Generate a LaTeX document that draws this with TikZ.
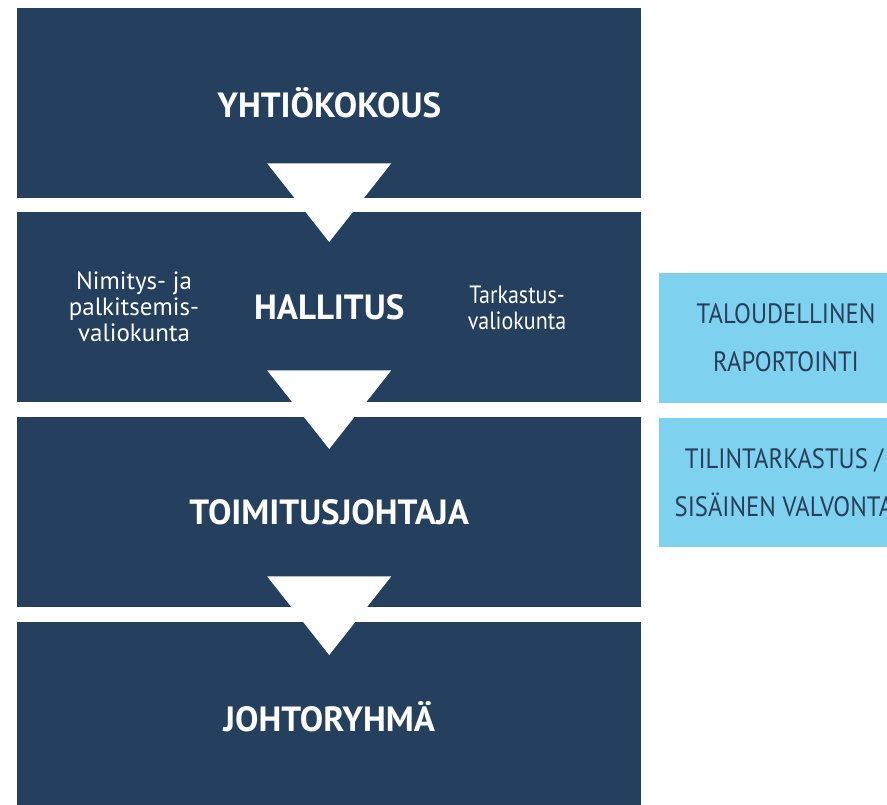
\documentclass[tikz,border=0pt]{standalone}
\usepackage{fontspec}
\setmainfont{PT Sans}
\newfontfamily\condfont[FakeStretch=0.88]{PT Sans}
\usetikzlibrary{calc}
\definecolor{navy}{RGB}{37,64,94}
\definecolor{sky}{RGB}{127,209,240}
\definecolor{skytext}{RGB}{40,62,88}
\begin{document}
\begin{tikzpicture}[x=1pt,y=-1pt,
  box/.style={fill=navy,minimum width=624pt,minimum height=190pt,inner sep=0pt,anchor=north west,text=white,font=\bfseries\fontsize{35}{35}\selectfont},
  side/.style={text=white,align=center,inner sep=0pt,font=\fontsize{25}{26}\selectfont},
  skybox/.style={fill=sky,minimum height=130pt,inner sep=0pt,anchor=north west},
  skylabel/.style={text=skytext,align=center,inner sep=0pt,font=\condfont\fontsize{28}{48}\selectfont},
  arrowtri/.style={fill=white}]
\useasboundingbox (0,0) rectangle (887,805);
\clip (0,0) rectangle (887,805);
\node[box] (b1) at (17,8) {YHTIÖKOKOUS};
\node[box] (b2) at (17,212) {HALLITUS};
\node[box] (b3) at (17,417) {TOIMITUSJOHTAJA};
\node[box] (b4) at (17,622) {JOHTORYHMÄ};
\node[side] (nim) at (134,307) {Nimitys- ja\\palkitsemis-\\valiokunta};
\node[side,font=\condfont\fontsize{25}{26}\selectfont] (tark) at (517,308) {Tarkastus-\\valiokunta};
\node[skybox,minimum width=240pt] (s1) at (659,273) {};
\node[skybox,minimum width=260pt,minimum height=129pt] (s2) at (659,418) {};
\node[skylabel] (s1t) at (786,338) {TALOUDELLINEN\\RAPORTOINTI};
\node[skylabel] (s2t) at (784,483) {TILINTARKASTUS /\\SISÄINEN VALVONTA};
\fill[arrowtri] ($(b1.south)+(-62,-35)$) -- ($(b1.south)+(62,-35)$) -- ($(b2.north)+(0,30)$) -- cycle;
\fill[arrowtri] ($(b2.south)+(-62,-32)$) -- ($(b2.south)+(62,-32)$) -- ($(b3.north)+(0,32)$) -- cycle;
\fill[arrowtri] ($(b3.south)+(-62,-31)$) -- ($(b3.south)+(62,-31)$) -- ($(b4.north)+(0,33)$) -- cycle;
\end{tikzpicture}
\end{document}
